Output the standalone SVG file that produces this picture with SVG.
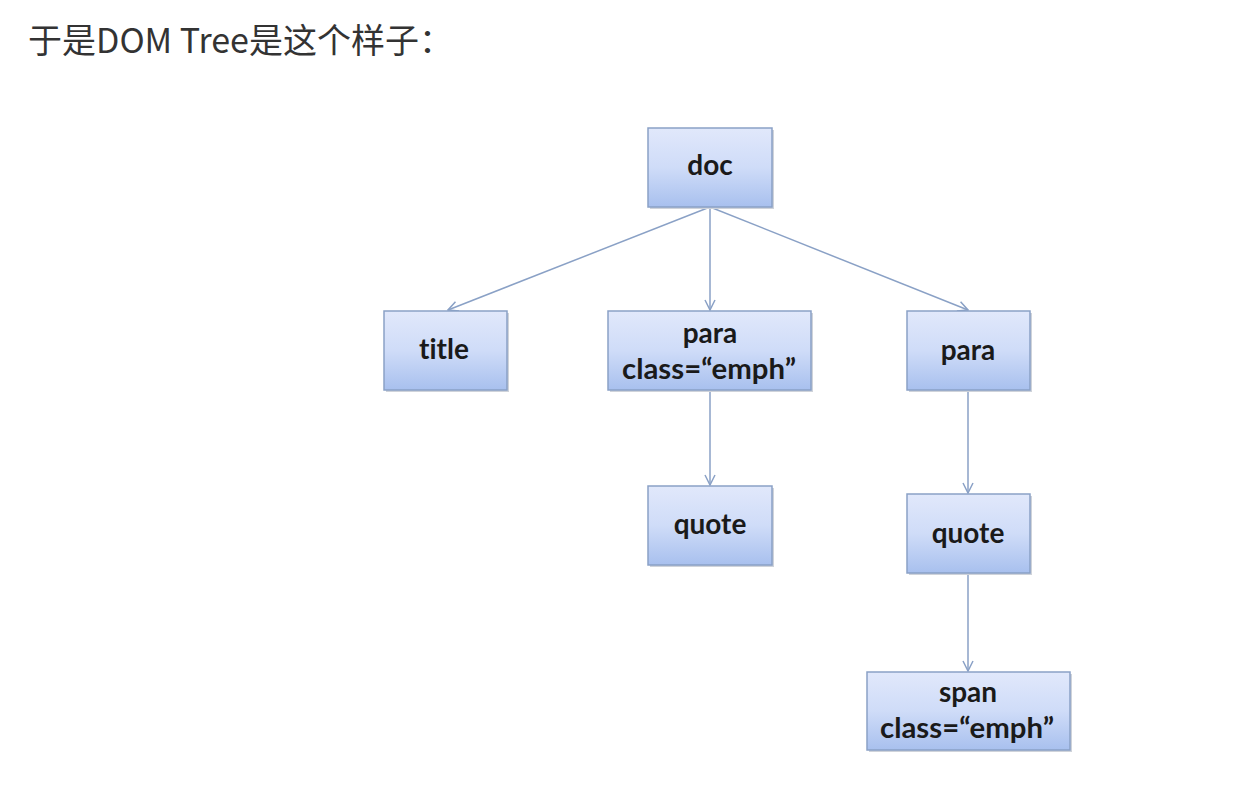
<svg xmlns="http://www.w3.org/2000/svg" width="1248" height="788" viewBox="0 0 1248 788">
<style>
.box{fill:url(#g);stroke:#8aa1c6;stroke-width:1.5}
.sh{fill:#cfd3da}
.t{font-family:Lato,"Open Sans","Liberation Sans",sans-serif;font-weight:bold;font-size:28px;fill:#1a1a1a;text-anchor:middle;font-variant-ligatures:none;font-feature-settings:"liga" 0}
.c{stroke:#8aa1c6;stroke-width:1.5;fill:none;marker-end:url(#a)}
</style>
<defs>
<linearGradient id="g" x1="0" y1="0" x2="0" y2="1">
<stop offset="0" stop-color="#e1e8fb"/>
<stop offset="0.5" stop-color="#cfdcf8"/>
<stop offset="1" stop-color="#a8c0ee"/>
</linearGradient>
<marker id="a" viewBox="0 0 12 12" refX="11" refY="6" markerWidth="12" markerHeight="12" markerUnits="userSpaceOnUse" orient="auto">
<path d="M1,1 L11,6 L1,11" fill="none" stroke="#8aa1c6" stroke-width="1.5"/>
</marker>
</defs>
<rect width="1248" height="788" fill="#fff"/>
<text x="28" y="53" font-family="'Noto Sans CJK SC','Noto Sans',sans-serif" font-size="34" fill="#333">于是DOM Tree是这个样子：</text>
<g id="connectors">
<line class="c" x1="710" y1="207" x2="448" y2="310"/>
<line class="c" x1="710" y1="207" x2="710" y2="310"/>
<line class="c" x1="710" y1="207" x2="968" y2="310"/>
<line class="c" x1="710" y1="390" x2="710" y2="485"/>
<line class="c" x1="968" y1="390" x2="968" y2="493"/>
<line class="c" x1="968" y1="573" x2="968" y2="671"/>
</g>
<g id="doc"><rect class="sh" x="650" y="130" width="124" height="79"/><rect class="box" x="648" y="128" width="124" height="79"/><text class="t" x="710" y="175">doc</text></g>
<g id="title"><rect class="sh" x="386" y="313" width="123" height="79"/><rect class="box" x="384" y="311" width="123" height="79"/><text class="t" x="444" y="359">title</text></g>
<g id="para1"><rect class="sh" x="610" y="313" width="203" height="79"/><rect class="box" x="608" y="311" width="203" height="79"/><text class="t" x="710" y="343">para</text><text class="t" x="709" y="379" textLength="174" lengthAdjust="spacingAndGlyphs">class=“emph”</text></g>
<g id="para2"><rect class="sh" x="909" y="313" width="123" height="79"/><rect class="box" x="907" y="311" width="123" height="79"/><text class="t" x="968" y="360">para</text></g>
<g id="quote1"><rect class="sh" x="650" y="488" width="124" height="79"/><rect class="box" x="648" y="486" width="124" height="79"/><text class="t" x="710" y="534">quote</text></g>
<g id="quote2"><rect class="sh" x="909" y="496" width="123" height="79"/><rect class="box" x="907" y="494" width="123" height="79"/><text class="t" x="968" y="543">quote</text></g>
<g id="span"><rect class="sh" x="869" y="674" width="203" height="78"/><rect class="box" x="867" y="672" width="203" height="78"/><text class="t" x="968" y="702">span</text><text class="t" x="967" y="738" textLength="174" lengthAdjust="spacingAndGlyphs">class=“emph”</text></g>
</svg>
